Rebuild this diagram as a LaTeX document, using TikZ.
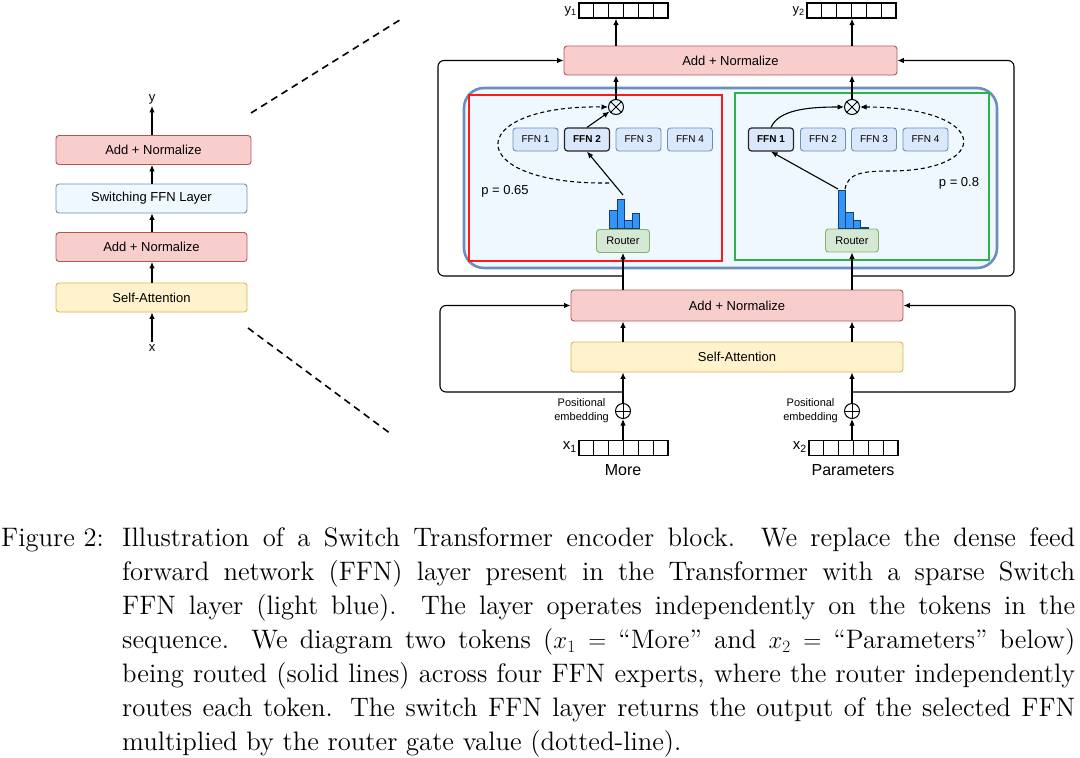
\documentclass[tikz,border=0pt]{standalone}
\usepackage{fontspec}
\newfontfamily\diagfont{Liberation Sans}
\newfontfamily\capfont{lmroman12-regular}[Extension=.otf, Ligatures=TeX]
\usetikzlibrary{arrows.meta,calc,positioning}
\definecolor{anfill}{HTML}{F8CECC}
\definecolor{andraw}{HTML}{B85450}
\definecolor{safill}{HTML}{FFF2CC}
\definecolor{sadraw}{HTML}{D6B656}
\definecolor{swfill}{HTML}{EFF8FE}
\definecolor{swdraw}{HTML}{6C8EBF}
\definecolor{fffill}{HTML}{DAE8FC}
\definecolor{rofill}{HTML}{D5E8D4}
\definecolor{rodraw}{HTML}{82B366}
\definecolor{tkred}{HTML}{FF1A1A}
\definecolor{tkgreen}{HTML}{2DB24B}
\definecolor{barfill}{HTML}{3395FA}
\definecolor{bardraw}{HTML}{1C3D6B}
\tikzset{
    arr/.style={-{Latex[length=6.5pt,width=5.5pt]}, line width=1.1pt},
    dasharr/.style={arr, dash pattern=on 4pt off 3pt},
    guide/.style={line width=1.6pt, dash pattern=on 7pt off 5pt},
    box/.style={draw, rounded corners=3pt, line width=0.9pt, minimum height=29pt, inner sep=0pt,
        font=\diagfont\fontsize{13}{15}\selectfont},
    addnorm/.style={box, fill=anfill, draw=andraw},
    selfatt/.style={box, fill=safill, draw=sadraw},
    switchbox/.style={box, fill=swfill, draw=swdraw},
    swlayer/.style={draw=swdraw, fill=swfill, line width=2.6pt, rounded corners=20pt, inner sep=0pt},
    tokbox/.style={line width=2.2pt, inner sep=0pt},
    ffn/.style={box, fill=fffill, draw=swdraw, minimum width=45pt, minimum height=23pt,
        font=\diagfont\fontsize{10}{12}\selectfont},
    ffnsel/.style={ffn, draw=black!85, line width=1.2pt, font=\diagfont\bfseries\fontsize{10}{12}\selectfont},
    router/.style={box, fill=rofill, draw=rodraw, minimum width=53pt, minimum height=23pt,
        font=\diagfont\fontsize{11}{13}\selectfont},
    mult/.style={circle, draw, line width=1pt, minimum size=15pt, inner sep=0pt},
    vec/.style={draw, line width=1.3pt, minimum width=89pt, minimum height=15pt, inner sep=0pt},
    bar/.style={fill=barfill, draw=bardraw, line width=0.8pt},
    lbl/.style={inner sep=2pt, font=\diagfont\fontsize{13}{15}\selectfont},
    small/.style={inner sep=2pt, align=center, font=\diagfont\fontsize{11}{14}\selectfont},
    word/.style={inner sep=2pt, font=\diagfont\fontsize{16}{18}\selectfont}
}

\begin{document}
\begin{tikzpicture}[x=1pt,y=-1pt]
    \useasboundingbox (0,0) rectangle (1080,758);

    % encoder block, small view
    \node[lbl] (ly) at (152,99) {y};
    \node[addnorm, minimum width=195pt] (ln2) at (153.5,150) {Add + Normalize};
    \node[switchbox, minimum width=191pt] (lsw) at (151.5,198.5) {Switching FFN Layer};
    \node[addnorm, minimum width=191pt] (ln1) at (151.5,247) {Add + Normalize};
    \node[selfatt, minimum width=191pt] (lsa) at (151.5,297.5) {Self-Attention};
    \node[lbl] (lx) at (152,348) {x};

    \draw[arr] (lx) -- (lx |- lsa.south);
    \draw[arr] (lsa.north -| lx) -- (ln1.south -| lx);
    \draw[arr] (ln1.north -| lx) -- (lsw.south -| lx);
    \draw[arr] (lsw.north -| lx) -- (ln2.south -| lx);
    \draw[arr] (ln2.north -| lx) -- (ly);

    \draw[guide] (251,113) -- (403,18);
    \draw[guide] (248,328) -- (391,434);

    % switching FFN layer, two tokens
    \node[swlayer, minimum width=533pt, minimum height=180pt] (sw) at (730.5,178) {};
    \node[tokbox, draw=tkred, minimum width=253pt, minimum height=166pt] (tk1) at (595.5,178) {};
    \node[tokbox, draw=tkgreen, minimum width=254pt, minimum height=167pt] (tk2) at (862,176.5) {};

    \node[addnorm, minimum width=333pt] (tn) at (730.5,60.5) {Add + Normalize};
    \node[addnorm, minimum width=332pt, minimum height=31pt] (bn) at (737,305.5) {Add + Normalize};
    \node[selfatt, minimum width=332pt, minimum height=30pt] (bsa) at (737,357) {Self-Attention};

    \node[vec] (y1) at (623.5,10.5) {};
    \node[vec] (y2) at (851.5,10.5) {};
    \node[vec] (x1) at (623.5,448) {};
    \node[vec] (x2) at (853.5,448) {};
    \foreach \v in {y1,y2,x1,x2}
        \foreach \k in {1,...,5}
            \draw[line width=1.3pt] ($(\v.north west)!\k/6!(\v.north east)$) -- ($(\v.south west)!\k/6!(\v.south east)$);
    \node[lbl, anchor=east] (y1l) at (579,11) {y\textsubscript{1}};
    \node[lbl, anchor=east] (y2l) at (807,11) {y\textsubscript{2}};
    \node[lbl, anchor=east, font=\diagfont\fontsize{15}{17}\selectfont] (x1l) at (579,447) {x\textsubscript{1}};
    \node[lbl, anchor=east, font=\diagfont\fontsize{15}{17}\selectfont] (x2l) at (809,447) {x\textsubscript{2}};
    \node[word] (w1) at (623,470) {More};
    \node[word] (w2) at (853,470) {Parameters};

    % positional embedding
    \node[mult] (pe1) at (623,411) {};
    \node[mult] (pe2) at (852,411) {};
    \foreach \p in {pe1,pe2}
        \draw[line width=1pt] (\p.north) -- (\p.south) (\p.west) -- (\p.east);
    \node[small, anchor=east] (pl1) at (611,411) {Positional\\embedding};
    \node[small, anchor=east] (pl2) at (840,411) {Positional\\embedding};

    % experts and routers
    \foreach \n/\s [count=\i] in {535.5/ffn,587/ffnsel,638.5/ffn,690/ffn}
        \node[\s] (f1\i) at (\n,139.5) {FFN \i};
    \foreach \n/\s [count=\i] in {771/ffnsel,823/ffn,874/ffn,925.5/ffn}
        \node[\s] (f2\i) at (\n,139.5) {FFN \i};
    \node[router] (ro1) at (623,241) {Router};
    \node[router] (ro2) at (852,240.5) {Router};
    \foreach \h [count=\i from 0] in {18,29,8,15}
        \draw[bar] (609.5+\i*7.5,228.5) rectangle ++(7.5,-\h);
    \foreach \h [count=\i from 0] in {38,16,8,1}
        \draw[bar] (838+\i*7.5,228.5) rectangle ++(7.5,-\h);

    \node[mult] (m1) at (616,107) {};
    \node[mult] (m2) at (852,107) {};
    \foreach \m in {m1,m2}
        \draw[line width=1pt] (\m.north west) -- (\m.south east) (\m.north east) -- (\m.south west);

    \node[lbl] (p1) at (505,191) {p = 0.65};
    \node[lbl] (p2) at (959,183) {p = 0.8};

    % token 1
    \coordinate (h1) at (623,195);
    \coordinate (d1) at (609,183);
    \draw[arr] (x1.north -| pe1) -- (pe1.south);
    \draw[arr] (pe1.north) -- (pe1 |- bsa.south);
    \draw[arr] (bsa.north -| pe1) -- (bn.south -| pe1);
    \draw[arr] (bn.north -| ro1) -- (ro1.south);
    \draw[arr] (h1) -- (f12.south);
    \draw[arr] (f12.north) -- (m1);
    \draw[dasharr] (d1) .. controls (462,185) and (462,105) .. (m1.west);
    \draw[arr] (m1.north) -- (m1.north |- tn.south);
    \draw[arr] (tn.north -| m1) -- (y1.south -| m1);

    % token 2
    \coordinate (h2) at (838,189);
    \coordinate (d2) at (845,189);
    \draw[arr] (x2.north -| pe2) -- (pe2.south);
    \draw[arr] (pe2.north) -- (pe2 |- bsa.south);
    \draw[arr] (bsa.north -| pe2) -- (bn.south -| pe2);
    \draw[arr] (bn.north -| ro2) -- (ro2.south);
    \draw[arr] (h2) -- (f21.south);
    \draw[arr] (f21.north) .. controls +(8,-18) and +(-35,0) .. (m2.west);
    \draw[dasharr] (d2) .. controls (848,174) and (860,171) .. (890,171)
        .. controls (992,171) and (992,107) .. (m2.east);
    \draw[arr] (m2.north) -- (m2.north |- tn.south);
    \draw[arr] (tn.north -| m2) -- (y2.south -| m2);

    % residual connections
    \coordinate (rt1) at (623,276);
    \coordinate (rt2) at (852,276);
    \coordinate (rb1) at (623,392);
    \coordinate (rb2) at (852,392);
    \draw[arr, rounded corners=6pt] (rt1) -| (438,150) |- (tn.west);
    \draw[arr, rounded corners=6pt] (rt2) -| (1014,150) |- (tn.east);
    \draw[arr, rounded corners=6pt] (rb1) -| (440,350) |- (bn.west);
    \draw[arr, rounded corners=6pt] (rb2) -| (1015,350) |- (bn.east);

    % caption
    \node[anchor=north west, text width=1074pt, align=justify, inner sep=0pt,
        font=\capfont\fontsize{26.7}{34}\selectfont] (cap) at (1,527.5)
        {\noindent\hangindent=121pt\hangafter=1
        \makebox[121pt][l]{Figure 2:}Illustration of a Switch Transformer encoder block.  We replace the dense feed\linebreak
        forward network (FFN) layer present in the Transformer with a sparse Switch\linebreak
        FFN layer (light blue).  The layer operates independently on the tokens in the\linebreak
        sequence. We diagram two tokens ($x_1 =$ ``More'' and $x_2 =$ ``Parameters'' below)\linebreak
        being routed (solid lines) across four FFN experts, where the router independently\linebreak
        routes each token. The switch FFN layer returns the output of the selected FFN\linebreak
        multiplied by the router gate value (dotted-line).\par};

\end{tikzpicture}
\end{document}
